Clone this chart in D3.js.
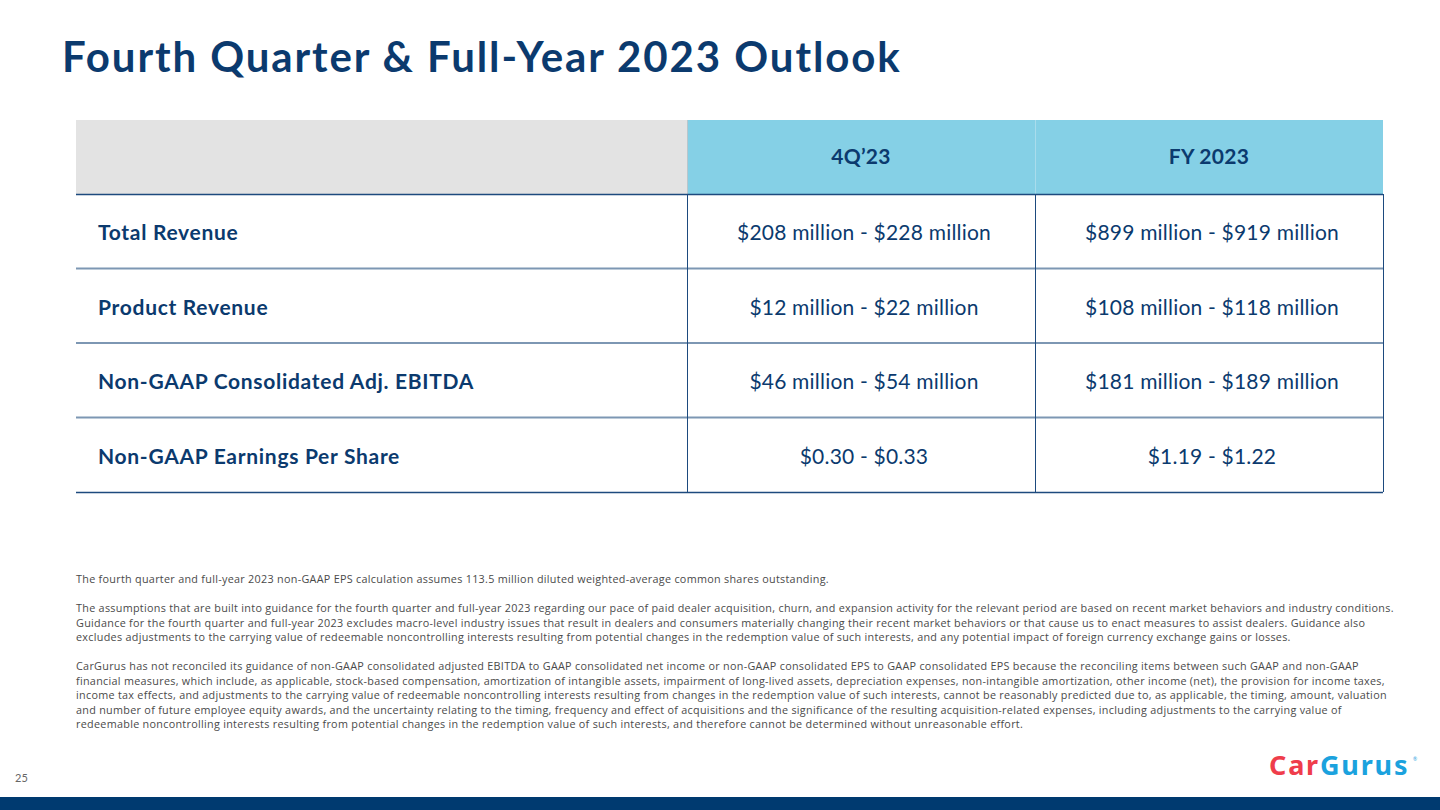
<!DOCTYPE html>
<html>
<head>
<meta charset="utf-8">
<script src="https://cdn.jsdelivr.net/npm/d3@7"></script>
<style>
  html, body { margin: 0; padding: 0; background: #fff; }
  svg { display: block; }
</style>
</head>
<body>
<svg id="chart" width="1440" height="810"></svg>
<script>
const title = "Fourth Quarter & Full-Year 2023 Outlook";
const columns = ["4Q\u201923", "FY 2023"];
const rowLabels = ["Total Revenue", "Product Revenue", "Non-GAAP Consolidated Adj. EBITDA", "Non-GAAP Earnings Per Share"];
const q4Values = ["$208 million - $228 million", "$12 million - $22 million", "$46 million - $54 million", "$0.30 - $0.33"];
const fyValues = ["$899 million - $919 million", "$108 million - $118 million", "$181 million - $189 million", "$1.19 - $1.22"];
const footnotes = [
  ["The fourth quarter and full-year 2023 non-GAAP EPS calculation assumes 113.5 million diluted weighted-average common shares outstanding."],
  ["The assumptions that are built into guidance for the fourth quarter and full-year 2023 regarding our pace of paid dealer acquisition, churn, and expansion activity for the relevant period are based on recent market behaviors and industry conditions.",
   "Guidance for the fourth quarter and full-year 2023 excludes macro-level industry issues that result in dealers and consumers materially changing their recent market behaviors or that cause us to enact measures to assist dealers. Guidance also",
   "excludes adjustments to the carrying value of redeemable noncontrolling interests resulting from potential changes in the redemption value of such interests, and any potential impact of foreign currency exchange gains or losses."],
  ["CarGurus has not reconciled its guidance of non-GAAP consolidated adjusted EBITDA to GAAP consolidated net income or non-GAAP consolidated EPS to GAAP consolidated EPS because the reconciling items between such GAAP and non-GAAP",
   "financial measures, which include, as applicable, stock-based compensation, amortization of intangible assets, impairment of long-lived assets, depreciation expenses, non-intangible amortization, other income (net), the provision for income taxes,",
   "income tax effects, and adjustments to the carrying value of redeemable noncontrolling interests resulting from changes in the redemption value of such interests, cannot be reasonably predicted due to, as applicable, the timing, amount, valuation",
   "and number of future employee equity awards, and the uncertainty relating to the timing, frequency and effect of acquisitions and the significance of the resulting acquisition-related expenses, including adjustments to the carrying value of",
   "redeemable noncontrolling interests resulting from potential changes in the redemption value of such interests, and therefore cannot be determined without unreasonable effort."]
];
const pageNumber = "25";

const navy = "#0b3a6e";
const font = "Lato, 'Open Sans', sans-serif";
const svg = d3.select("#chart");

// Title
svg.append("text").attr("x", 62).attr("y", 72)
  .attr("font-family", font).attr("font-weight", 700).attr("font-size", 42)
  .attr("letter-spacing", 1.9)
  .attr("fill", navy).text(title);

// Table geometry via scales
const tableLeft = 76, labelRight = 687, tableRight = 1383;
const headerTop = 120, headerBottom = 194, tableBottom = 492;
const x = d3.scaleBand().domain(columns).range([labelRight, tableRight]);
const y = d3.scaleBand().domain(rowLabels).range([headerBottom, tableBottom]);

// Header backgrounds
svg.append("rect").attr("x", tableLeft).attr("y", headerTop)
  .attr("width", labelRight - tableLeft).attr("height", headerBottom - headerTop).attr("fill", "#e3e3e3");
svg.selectAll("rect.hdr").data(columns).join("rect").attr("class", "hdr")
  .attr("x", d => x(d)).attr("y", headerTop).attr("width", x.bandwidth())
  .attr("height", headerBottom - headerTop).attr("fill", "#85d0e6");
svg.append("line").attr("x1", x(columns[1]) + 0.5).attr("x2", x(columns[1]) + 0.5)
  .attr("y1", headerTop).attr("y2", headerBottom).attr("stroke", "#a9dcec").attr("stroke-width", 1);
svg.append("line").attr("x1", labelRight + 0.5).attr("x2", labelRight + 0.5)
  .attr("y1", headerTop).attr("y2", headerBottom).attr("stroke", "#b9c6cc").attr("stroke-width", 1);

svg.selectAll("text.hdr").data(columns).join("text").attr("class", "hdr")
  .attr("x", d => x(d) + x.bandwidth() / 2).attr("y", (headerTop + headerBottom) / 2 + 7)
  .attr("text-anchor", "middle").attr("font-family", font).attr("font-weight", 700)
  .attr("font-size", 21).attr("letter-spacing", 0.3).attr("fill", navy).text(d => d);

// Row separators
svg.selectAll("line.rowsep").data(rowLabels.slice(1)).join("line").attr("class", "rowsep")
  .attr("x1", tableLeft).attr("x2", tableRight)
  .attr("y1", d => y(d)).attr("y2", d => y(d))
  .attr("stroke", "#7d97b3").attr("stroke-width", 2);
[headerBottom, tableBottom].forEach(v => {
  svg.append("line").attr("x1", tableLeft).attr("x2", tableRight)
    .attr("y1", v + 0.5).attr("y2", v + 0.5).attr("stroke", "#1d4a7e").attr("stroke-width", 1.5);
});
[labelRight, x(columns[1]), tableRight].forEach(v => {
  svg.append("line").attr("x1", v + 0.5).attr("x2", v + 0.5)
    .attr("y1", headerBottom).attr("y2", tableBottom).attr("stroke", "#1d4a7e").attr("stroke-width", 1);
});

// Row labels
svg.selectAll("text.rl").data(rowLabels).join("text").attr("class", "rl")
  .attr("x", 98).attr("y", d => y(d) + y.bandwidth() / 2 + 9)
  .attr("font-family", font).attr("font-weight", 700).attr("font-size", 21)
  .attr("letter-spacing", 0.7)
  .attr("fill", navy).text(d => d);

// Values
const valueCols = [q4Values, fyValues];
valueCols.forEach((vals, ci) => {
  svg.selectAll("text.v" + ci).data(vals).join("text").attr("class", "v" + ci)
    .attr("x", x(columns[ci]) + x.bandwidth() / 2 + 3)
    .attr("y", (d, i) => y(rowLabels[i]) + y.bandwidth() / 2 + 9)
    .attr("text-anchor", "middle").attr("font-family", font).attr("font-weight", 400)
    .attr("font-size", 21).attr("letter-spacing", 0.2).attr("fill", navy).text(d => d);
});

// Footnotes
const paraStarts = [583, 612, 670];
footnotes.forEach((para, pi) => {
  para.forEach((line, li) => {
    svg.append("text").attr("x", 76).attr("y", paraStarts[pi] + li * 14.5)
      .attr("font-family", "'Open Sans', sans-serif").attr("font-size", 10.8)
      .attr("letter-spacing", 0.29)
      .attr("fill", "#4a4a4a").text(line);
  });
});

// Page number
svg.append("text").attr("x", 15).attr("y", 782).attr("font-family", font)
  .attr("font-size", 11).attr("fill", "#666").text(pageNumber);

// Bottom bar
svg.append("rect").attr("x", 0).attr("y", 797).attr("width", 1440).attr("height", 13).attr("fill", "#003a70");

// Logo
const logo = svg.append("text").attr("x", 1269).attr("y", 775)
  .attr("font-family", "'Noto Sans', sans-serif").attr("font-weight", 700).attr("font-size", 27)
  .attr("letter-spacing", 1.8);
logo.append("tspan").attr("fill", "#ef3d4b").text("Car");
logo.append("tspan").attr("fill", "#1ba2de").text("Gurus");
svg.append("text").attr("x", 1413).attr("y", 761).attr("font-family", font).attr("font-size", 5)
  .attr("fill", "#1ba2de").text("®");
</script>
</body>
</html>
